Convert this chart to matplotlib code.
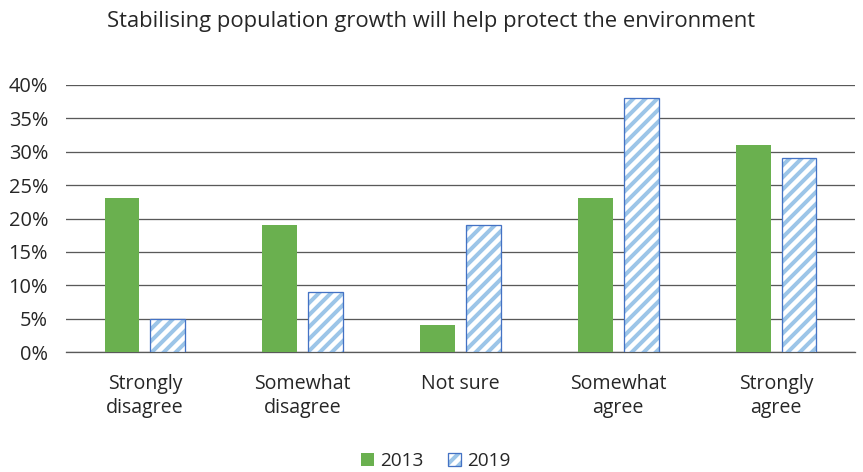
import matplotlib
matplotlib.use("Agg")
import matplotlib.pyplot as plt
from matplotlib.patches import Patch
from matplotlib.legend_handler import HandlerTuple
from matplotlib.ticker import FuncFormatter
import numpy as np

categories = ["Strongly\ndisagree", "Somewhat\ndisagree", "Not sure", "Somewhat\nagree", "Strongly\nagree"]
values_2013 = [23, 19, 4, 23, 31]
values_2019 = [5, 9, 19, 38, 29]
series_labels = ["2013", "2019"]
y_ticks = [0, 5, 10, 15, 20, 25, 30, 35, 40]

GREEN = "#6AB04F"
STRIPE = "#9CC5E8"
OUTLINE = "#4472C4"
TEXT = "#262626"
GRID = "#595959"

plt.rcParams["font.family"] = ["Open Sans", "DejaVu Sans"]
plt.rcParams["hatch.linewidth"] = 4.0

DPI = 72
fig = plt.figure(figsize=(863 / DPI, 472 / DPI), dpi=DPI)
ax = fig.add_axes([66 / 863, 1 - 352 / 472, (855 - 66) / 863, (352 - 85) / 472])

x = np.arange(len(categories))
width = 0.22
offset = 0.145

ax.bar(x - offset, values_2013, width, color=GREEN, zorder=3)
# striped fill, then the outline drawn on top
ax.bar(x + offset, values_2019, width, facecolor="white", edgecolor=STRIPE,
       hatch="//", linewidth=0, zorder=3)
ax.bar(x + offset, values_2019, width, facecolor="none", edgecolor=OUTLINE,
       linewidth=1.3, zorder=4)

ax.set_xlim(-0.5, len(categories) - 0.5)
ax.set_ylim(0, 40)
ax.set_yticks(y_ticks)
ax.yaxis.set_major_formatter(FuncFormatter(lambda v, _: f"{v:.0f}%"))
ax.yaxis.grid(True, color=GRID, linewidth=1.3, zorder=0)
ax.set_axisbelow(True)

ax.set_xticks(x)
ax.set_xticklabels(categories, fontsize=19.5, color=TEXT, linespacing=1.3)
ax.tick_params(axis="x", length=0, pad=22)
ax.tick_params(axis="y", length=0, pad=18, labelsize=20, labelcolor=TEXT)

for s in ["top", "right", "left"]:
    ax.spines[s].set_visible(False)
ax.spines["bottom"].set_color(GRID)
ax.spines["bottom"].set_linewidth(1.3)

fig.text(0.5, 1 - 21 / 472, "Stabilising population growth will help protect the environment",
         ha="center", va="center", fontsize=22, color=TEXT)

h2013 = Patch(facecolor=GREEN, edgecolor="none")
h2019 = (Patch(facecolor="white", edgecolor=STRIPE, hatch="//", linewidth=0),
         Patch(facecolor="none", edgecolor=OUTLINE, linewidth=1.3))
fig.legend([h2013, h2019], series_labels, loc="center", bbox_to_anchor=(436 / 863, 1 - 461 / 472),
           ncol=2, frameon=False, fontsize=19, handlelength=0.65, handleheight=0.65,
           handletextpad=0.35, columnspacing=1.3, labelcolor=TEXT,
           handler_map={tuple: HandlerTuple(ndivide=1)})

fig.savefig("out.png", dpi=DPI)
